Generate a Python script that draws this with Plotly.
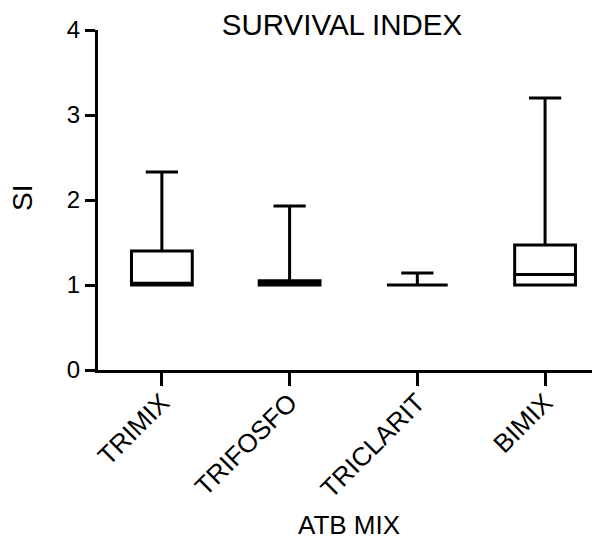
import plotly.graph_objects as go

categories = ["TRIMIX", "TRIFOSFO", "TRICLARIT", "BIMIX"]
lower_fence = [1.0, 1.0, 1.0, 1.0]
q1_values = [1.0, 1.0, 1.0, 1.0]
median_values = [1.02, 1.02, 1.0, 1.125]
q3_values = [1.40, 1.05, 1.0, 1.47]
upper_fence = [2.33, 1.93, 1.14, 3.20]
y_ticks = [0, 1, 2, 3, 4]

FONT = "Liberation Sans, Arial, sans-serif"
W, H = 592, 529  # page has an 8px body margin

fig = go.Figure()
fig.add_trace(go.Box(
    x=categories,
    q1=q1_values,
    median=median_values,
    q3=q3_values,
    lowerfence=lower_fence,
    upperfence=upper_fence,
    fillcolor="white",
    line=dict(color="black", width=3),
    whiskerwidth=0.53,
    boxpoints=False,
    showlegend=False,
))

fig.update_layout(
    width=W,
    height=H,
    margin=dict(l=90, r=0, t=22, b=167),
    paper_bgcolor="white",
    plot_bgcolor="white",
    boxgap=0.32,
    font=dict(family=FONT, color="black"),
    title=dict(
        text="SURVIVAL INDEX",
        x=334 / W, xref="container", xanchor="center",
        y=1 - 17 / H, yref="container", yanchor="middle",
        font=dict(size=29.5, family=FONT, color="black"),
    ),
    xaxis=dict(
        type="category",
        range=[-0.5, 3.43],
        showline=True, linecolor="black", linewidth=3,
        ticks="outside", ticklen=13, tickwidth=3, tickcolor="black",
        tickangle=-45,
        ticklabelstandoff=-9,
        tickfont=dict(size=26, family=FONT, color="black"),
        showgrid=False, zeroline=False,
    ),
    yaxis=dict(
        range=[0, 4],
        tickvals=y_ticks,
        showline=True, linecolor="black", linewidth=3,
        ticks="outside", ticklen=10, tickwidth=3, tickcolor="black",
        tickfont=dict(size=24, family=FONT, color="black"),
        showgrid=False, zeroline=False,
    ),
    annotations=[
        dict(text="ATB MIX", x=0.5, xref="paper", y=(370 - 525) / 340, yref="paper",
             xanchor="center", yanchor="middle", showarrow=False,
             font=dict(size=26, family=FONT, color="black")),
        dict(text="SI", x=(22 - 98) / 502, xref="paper", y=(370 - 198) / 340, yref="paper",
             xanchor="center", yanchor="middle", showarrow=False, textangle=-90,
             font=dict(size=28, family=FONT, color="black")),
    ],
)

fig.write_html("out.html")
